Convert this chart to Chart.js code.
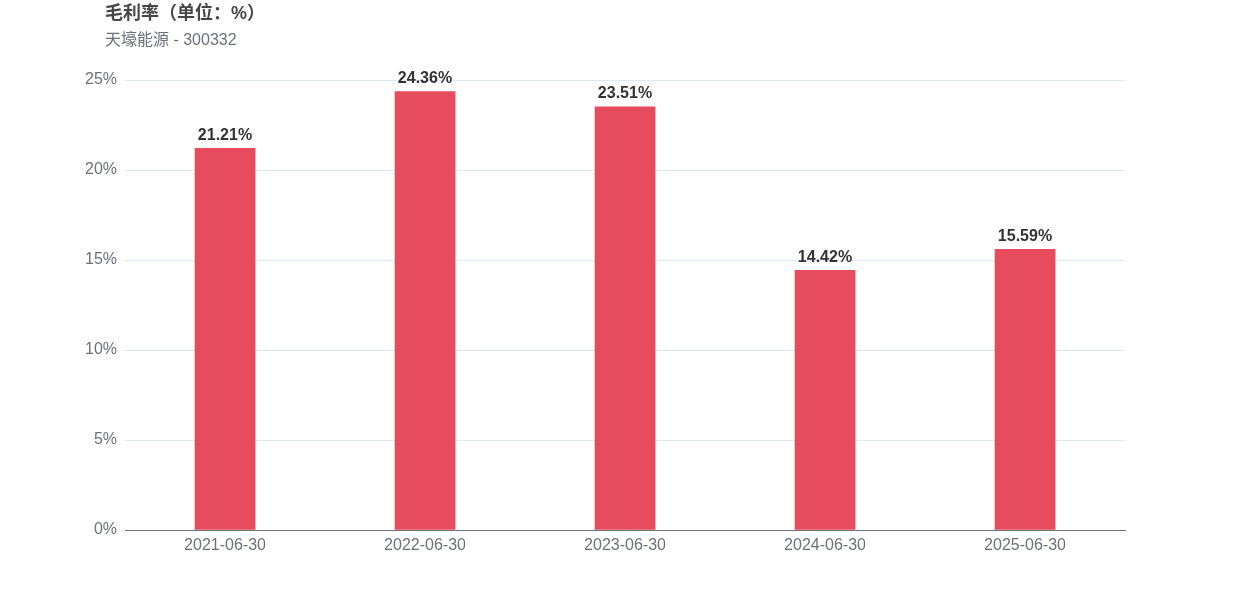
<!DOCTYPE html>
<html>
<head>
<meta charset="utf-8">
<script src="https://cdn.jsdelivr.net/npm/chart.js@4/dist/chart.umd.min.js"></script>
<style>
  body { margin: 0; background: #fff; }
  #wrap { position: relative; width: 1250px; height: 600px; }
  #title { position: absolute; left: 105px; top: -2px; font: bold 18px "Liberation Sans", "Noto Sans CJK SC", sans-serif; color: #464646; }
  #sub { position: absolute; left: 105px; top: 26px; font: 16px "Liberation Sans", "Noto Sans CJK SC", sans-serif; color: #6e7079; }
</style>
</head>
<body>
<div id="wrap">
  <canvas id="grossMargin" width="1250" height="600"></canvas>
  <div id="title">毛利率（单位：%）</div>
  <div id="sub">天壕能源 - 300332</div>
</div>
<script>
const periods = ['2021-06-30', '2022-06-30', '2023-06-30', '2024-06-30', '2025-06-30'];
const marginValues = [21.21, 24.36, 23.51, 14.42, 15.59];
const yTicks = [0, 5, 10, 15, 20, 25];

const FONT = '"Liberation Sans", "Noto Sans CJK SC", sans-serif';

// labels above each bar
const valueLabels = {
  id: 'valueLabels',
  afterDatasetsDraw(chart) {
    const ctx = chart.ctx;
    const meta = chart.getDatasetMeta(0);
    ctx.save();
    ctx.font = 'bold 16px ' + FONT;
    ctx.fillStyle = '#333';
    ctx.textAlign = 'center';
    ctx.textBaseline = 'bottom';
    meta.data.forEach((bar, i) => {
      ctx.fillText(marginValues[i].toFixed(2) + '%', bar.x, bar.y - 5);
    });
    ctx.restore();
  }
};

new Chart(document.getElementById('grossMargin').getContext('2d'), {
  type: 'bar',
  data: {
    labels: periods,
    datasets: [{
      data: marginValues,
      backgroundColor: '#e64b5e',
      barThickness: 60,
      borderWidth: 0
    }]
  },
  options: {
    responsive: false,
    animation: false,
    layout: { padding: { top: 80, right: 125, left: 0, bottom: 0 } },
    plugins: { legend: { display: false }, tooltip: { enabled: false } },
    scales: {
      x: {
        grid: { display: false },
        border: { color: '#6e7079', width: 1 },
        ticks: { color: '#6e7079', font: { family: FONT, size: 16 }, padding: -2 },
        afterFit(s) { s.height = 70; }
      },
      y: {
        min: 0,
        max: 25,
        afterBuildTicks(s) { s.ticks = yTicks.map(v => ({ value: v })); },
        grid: { color: '#e0e6f1', drawTicks: false },
        border: { display: false },
        ticks: {
          color: '#6e7079',
          font: { family: FONT, size: 16 },
          padding: 8,
          callback: v => v + '%'
        },
        afterFit(s) { s.width = 125; }
      }
    }
  },
  plugins: [valueLabels]
});
</script>
</body>
</html>
